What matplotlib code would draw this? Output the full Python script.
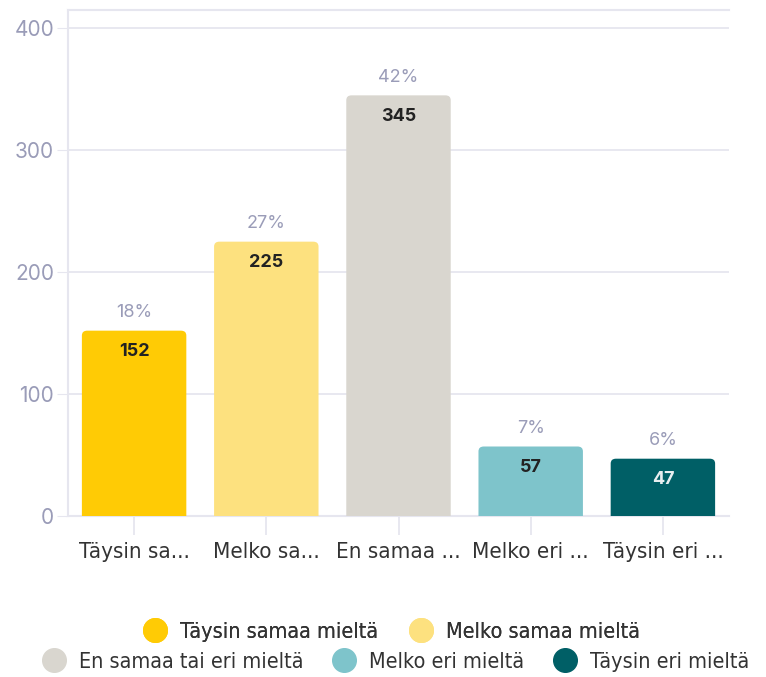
import matplotlib
matplotlib.use("Agg")
import matplotlib.pyplot as plt
from matplotlib import font_manager
from matplotlib.patches import FancyBboxPatch

# data
categories = ["Täysin samaa mieltä", "Melko samaa mieltä", "En samaa tai eri mieltä",
              "Melko eri mieltä", "Täysin eri mieltä"]
short_labels = ["Täysin sa...", "Melko sa...", "En samaa ...", "Melko eri ...", "Täysin eri ..."]
counts = [152, 225, 345, 57, 47]
percents = ["18%", "27%", "42%", "7%", "6%"]
colors = ["#FFCB05", "#FDE17F", "#D9D6CF", "#7EC4CB", "#005F66"]
count_colors = ["#222222", "#222222", "#222222", "#222222", "#e8eef0"]

fonts = font_manager.fontManager.ttflist
names = {f.name for f in fonts}
has_cond = any(f.name == "DejaVu Sans" and f.stretch in ("condensed", "semi-condensed") for f in fonts)
narrow = "Liberation Sans Narrow" if "Liberation Sans Narrow" in names else "DejaVu Sans"
stretch = "condensed" if has_cond else "normal"
num_font = "Inter" if "Inter" in names else "DejaVu Sans"

fig = plt.figure(figsize=(7.66, 6.77), dpi=100)
ax = fig.add_axes([68 / 766, (677 - 516) / 677, (729 - 68) / 766, (516 - 10) / 677])

ax.set_xlim(-0.5, 4.5)
ax.set_ylim(0, 415)

w = 0.79
for i, v in enumerate(counts):
    p = FancyBboxPatch((i - w / 2 + 0.04, -20), w - 0.08, v + 20 - 4,
                       boxstyle="round,pad=0.04,rounding_size=0.04",
                       mutation_aspect=100, fc=colors[i], ec="none", zorder=3)
    ax.add_patch(p)
    ax.text(i, v - 10, str(v), ha="center", va="top", fontsize=13, fontweight="bold",
            color=count_colors[i], family=num_font, zorder=4)
    ax.text(i, v + 8, percents[i], ha="center", va="bottom", fontsize=13,
            color="#9a9cb8", family=num_font, zorder=4)

ax.set_yticks([0, 100, 200, 300, 400])
ax.yaxis.grid(True, color="#e6e6ef", lw=1.3)
ax.set_axisbelow(True)
ax.tick_params(axis="y", length=8, color="#e6e6ef", labelcolor="#9a9cb8", labelsize=15, pad=2)
for lab in ax.get_yticklabels():
    lab.set_family(num_font)

ax.set_xticks(range(len(categories)))
ax.set_xticklabels(short_labels, family=narrow, stretch=stretch, fontsize=16, color="#333333")
ax.tick_params(axis="x", length=14, color="#e6e6ef", width=1.3, pad=5)

ax.spines["right"].set_visible(False)
for s in ["left", "top", "bottom"]:
    ax.spines[s].set_color("#e6e6ef")
    ax.spines[s].set_linewidth(1.5)

# legend
lp = {"family": narrow, "stretch": stretch, "size": 15.5}
handles = [plt.Line2D([], [], marker="o", ls="none", ms=17, mfc=c, mec=c) for c in colors]
leg1 = fig.legend(handles[:2], categories[:2], loc="center", bbox_to_anchor=(0.505, (677 - 632) / 677),
                  ncol=2, frameon=False, handletextpad=0.15, columnspacing=1.0, prop=lp)
leg2 = fig.legend(handles[2:], categories[2:], loc="center", bbox_to_anchor=(0.51, (677 - 662) / 677),
                  ncol=3, frameon=False, handletextpad=0.15, columnspacing=0.9, prop=lp)
fig.add_artist(leg1)
for lg in (leg1, leg2):
    for t in lg.get_texts():
        t.set_color("#333333")

fig.savefig("out.png", dpi=100)
